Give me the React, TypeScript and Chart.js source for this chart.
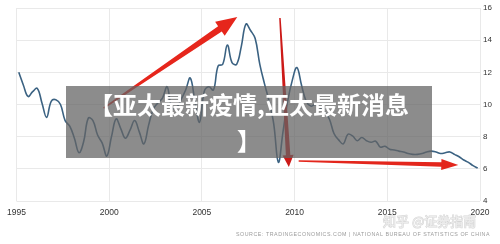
import React, { useEffect, useRef } from "react";
import { Chart, registerables } from "chart.js";

Chart.register(...registerables);

// ---- data ----
const YEARS = [
  1995, 1996, 1997, 1998, 1999, 2000, 2001, 2002, 2003, 2004, 2005, 2006, 2007,
  2008, 2009, 2010, 2011, 2012, 2013, 2014, 2015, 2016, 2017, 2018, 2019,
];
const QUARTERS = ["Q1", "Q2", "Q3", "Q4"];

// quarterly GDP growth (%), 4 values per year
const GDP_GROWTH = [
  12.0, 11.2, 10.5, 10.8,
  11.0, 10.1, 9.2, 10.2,
  10.3, 10.0, 9.0, 8.65,
  7.9, 7.0, 7.7, 9.15,
  9.0, 8.1, 7.6, 6.8,
  8.0, 9.1, 8.5, 7.9,
  8.4, 9.0, 8.3, 7.55,
  8.7, 9.7, 10.1, 10.4,
  11.1, 9.8, 9.8, 10.3,
  10.9, 11.65, 10.2, 8.9,
  10.8, 11.1, 10.9, 12.4,
  12.5, 13.7, 12.6, 12.5,
  13.6, 15.0, 14.6, 14.1,
  12.5, 11.3, 10.2, 8.8,
  6.4, 8.3, 10.2, 11.5,
  12.3, 11.2, 10.2, 9.9,
  10.0, 9.8, 9.5, 9.1,
  8.2, 7.8, 7.55, 8.15,
  8.05, 7.75, 7.95, 7.75,
  7.65, 7.72, 7.35, 7.4,
  7.22, 7.17, 7.1, 7.05,
  6.95, 6.9, 6.9, 6.95,
  7.05, 7.1, 7.05, 6.95,
  7.0, 7.05, 6.9, 6.75,
  6.55, 6.4, 6.2, 6.05,
];

const X_MIN = 1995;
const X_MAX = 2020;
const X_STEP = 5;
const Y_MIN = 4;
const Y_MAX = 16;
const Y_STEP = 2;

const TITLE_LINES = ["【亚太最新疫情,亚太最新消息", "】"];
const SOURCE_TEXT =
  "SOURCE: TRADINGECONOMICS.COM | NATIONAL BUREAU OF STATISTICS OF CHINA";
const WATERMARK = "知乎 @证券指南";

// arrows annotated in data coordinates: [year, value]
const ARROW_FROM = [
  [1999.7, 9.78],
  [2009.21, 15.38],
  [2010.22, 6.49],
];
const ARROW_TO = [
  [2006.91, 15.44],
  [2009.69, 6.11],
  [2018.83, 6.24],
];

// ---- styles ----
const ARROW_STYLE = [
  { tail: 1.5, shaft: 6.5, head: 17, headLen: 21, color: "#e6261c" },
  { tail: 1.5, shaft: 4.5, head: 11, headLen: 12, color: "#cc1a18" },
  { tail: 1.5, shaft: 4.5, head: 11, headLen: 17, color: "#e3261c" },
];

const points = GDP_GROWTH.map((v, i) => {
  const year = YEARS[Math.floor(i / 4)];
  const q = i % 4;
  return { x: year + (q + 0.5) / 4, y: v, label: `${year}${QUARTERS[q]}` };
});

function drawArrow(ctx: CanvasRenderingContext2D, x0: number, y0: number, x1: number, y1: number, s: any) {
  const dx = x1 - x0;
  const dy = y1 - y0;
  const len = Math.hypot(dx, dy);
  const ux = dx / len;
  const uy = dy / len;
  const nx = -uy;
  const ny = ux;
  const bx = x1 - ux * s.headLen;
  const by = y1 - uy * s.headLen;
  ctx.beginPath();
  ctx.moveTo(x0 + (nx * s.tail) / 2, y0 + (ny * s.tail) / 2);
  ctx.lineTo(bx + (nx * s.shaft) / 2, by + (ny * s.shaft) / 2);
  ctx.lineTo(bx + (nx * s.head) / 2, by + (ny * s.head) / 2);
  ctx.lineTo(x1, y1);
  ctx.lineTo(bx - (nx * s.head) / 2, by - (ny * s.head) / 2);
  ctx.lineTo(bx - (nx * s.shaft) / 2, by - (ny * s.shaft) / 2);
  ctx.lineTo(x0 - (nx * s.tail) / 2, y0 - (ny * s.tail) / 2);
  ctx.closePath();
  ctx.fillStyle = s.color;
  ctx.fill();
}

const decorPlugin = {
  id: "decor",
  afterDatasetsDraw(chart: any) {
    const ctx = chart.ctx as CanvasRenderingContext2D;
    const xs = chart.scales.x;
    const ys = chart.scales.y;
    ctx.save();
    ARROW_FROM.forEach((f, i) => {
      const t = ARROW_TO[i];
      drawArrow(
        ctx,
        xs.getPixelForValue(f[0]),
        ys.getPixelForValue(f[1]),
        xs.getPixelForValue(t[0]),
        ys.getPixelForValue(t[1]),
        ARROW_STYLE[i]
      );
    });
    ctx.restore();
  },
  afterDraw(chart: any) {
    const ctx = chart.ctx as CanvasRenderingContext2D;
    const area = chart.chartArea;
    ctx.save();
    // source line
    ctx.font = "6px 'Liberation Sans', Arial, sans-serif";
    (ctx as any).letterSpacing = "0.6px";
    ctx.fillStyle = "#9a9a9a";
    ctx.textAlign = "right";
    ctx.textBaseline = "middle";
    ctx.fillText(SOURCE_TEXT, area.right + 10, area.bottom + 33, 254);
    (ctx as any).letterSpacing = "0px";
    // watermark
    ctx.font = "13px 'Noto Sans CJK SC', sans-serif";
    ctx.textAlign = "left";
    ctx.lineWidth = 1;
    ctx.strokeStyle = "rgba(150,150,150,0.4)";
    ctx.fillStyle = "rgba(240,240,240,0.85)";
    ctx.strokeText(WATERMARK, area.right - 97, area.bottom + 20);
    ctx.fillText(WATERMARK, area.right - 97, area.bottom + 20);
    ctx.restore();
  },
};

export default function App() {
  const canvasRef = useRef<HTMLCanvasElement | null>(null);

  useEffect(() => {
    if (!canvasRef.current) return;
    const chart = new Chart(canvasRef.current, {
      type: "line",
      data: {
        datasets: [
          {
            label: "GDP Growth",
            data: points,
            parsing: { xAxisKey: "x", yAxisKey: "y" },
            borderColor: "#3b6282",
            borderWidth: 1.6,
            pointRadius: 0,
            tension: 0.4,
            fill: false,
          },
        ],
      },
      options: {
        responsive: false,
        animation: false,
        devicePixelRatio: 1,
        layout: { padding: { left: 12, top: 8, right: 0, bottom: 0 } },
        plugins: {
          legend: { display: false },
          tooltip: { enabled: false },
        },
        scales: {
          x: {
            type: "linear",
            min: X_MIN,
            max: X_MAX,
            afterFit: (s: any) => {
              s.height = 43;
            },
            grid: { color: "#e9e9e9", drawTicks: false, lineWidth: 1 },
            border: { display: false },
            ticks: {
              stepSize: X_STEP,
              padding: 7,
              color: "#333",
              font: { size: 8.5, family: "'Liberation Sans', Arial, sans-serif" },
              maxRotation: 0,
              callback: (v: any) => String(v),
            },
          },
          y: {
            type: "linear",
            position: "right",
            min: Y_MIN,
            max: Y_MAX,
            afterFit: (s: any) => {
              s.width = 20;
            },
            grid: { color: "#e9e9e9", drawTicks: false, lineWidth: 1 },
            border: { display: false },
            ticks: {
              stepSize: Y_STEP,
              padding: 3,
              color: "#333",
              font: { size: 8, family: "'Liberation Sans', Arial, sans-serif" },
            },
          },
        },
      },
      plugins: [decorPlugin],
    });
    return () => chart.destroy();
  }, []);

  return (
    <div
      style={{
        position: "absolute",
        left: 0,
        top: 0,
        width: 500,
        height: 244,
        background: "#fff",
        overflow: "hidden",
      }}
    >
      <canvas ref={canvasRef} width={500} height={244} style={{ display: "block" }} />
      <div
        style={{
          position: "absolute",
          left: 66,
          top: 86,
          width: 366,
          height: 72,
          background: "rgba(100,100,100,0.74)",
          color: "#fff",
          fontFamily: "'Noto Sans CJK SC', sans-serif",
          fontWeight: 700,
          fontSize: 24,
          lineHeight: "36px",
          textAlign: "center",
          whiteSpace: "nowrap",
        }}
      >
        {TITLE_LINES.map((t, i) => (
          <div key={i}>{t}</div>
        ))}
      </div>
    </div>
  );
}
